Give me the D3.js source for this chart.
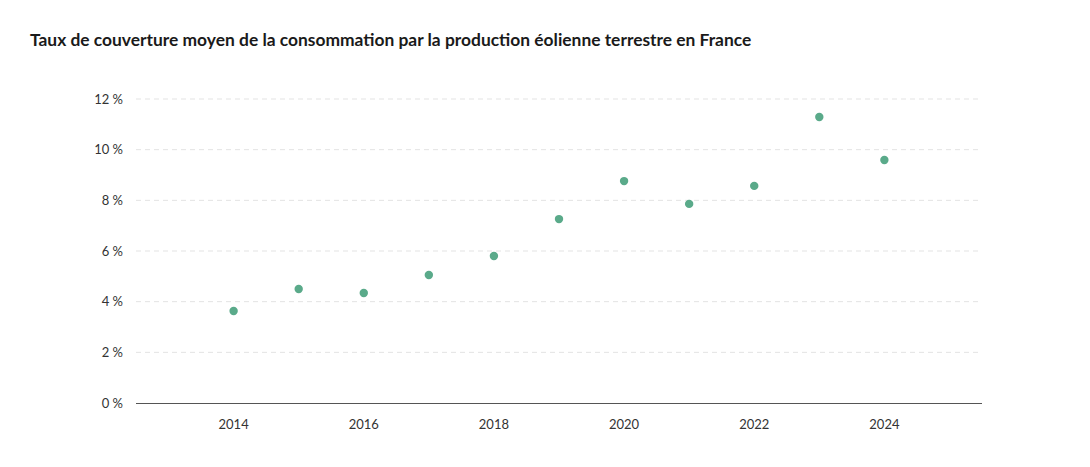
<!DOCTYPE html>
<html><head><meta charset="utf-8">
<script src="https://cdn.jsdelivr.net/npm/d3@7"></script>
<style>body{margin:0;background:#fff;font-family:Lato,"Open Sans",sans-serif;}</style>
</head><body><svg id="c" width="1090" height="467"></svg>
<script>
const years=[2014,2015,2016,2017,2018,2019,2020,2021,2022,2023,2024];
const values=[3.63,4.50,4.34,5.05,5.80,7.26,8.76,7.86,8.57,11.29,9.59];
const yTicks=[0,2,4,6,8,10,12];
const xTicks=[2014,2016,2018,2020,2022,2024];
const title="Taux de couverture moyen de la consommation par la production éolienne terrestre en France";
const svg=d3.select("#c");
const x=d3.scaleLinear().domain([2012.5,2025.5]).range([136,982]);
const y=d3.scaleLinear().domain([0,12]).range([403,99]);
svg.append("text").attr("x",30).attr("y",46).attr("font-size",17.4).attr("font-weight",700).attr("fill","#1a1a1a").text(title);
svg.append("g").selectAll("line").data(yTicks.filter(d=>d>0)).join("line")
 .attr("x1",136).attr("x2",982).attr("y1",d=>y(d)).attr("y2",d=>y(d))
 .attr("stroke","#e3e3e3").attr("stroke-dasharray","5,4");
svg.append("g").selectAll("text").data(yTicks).join("text")
 .attr("x",123).attr("y",d=>y(d)+4.5).attr("text-anchor","end").attr("font-size",13).attr("fill","#333")
 .text(d=>d+" %");
svg.append("line").attr("x1",136).attr("x2",982).attr("y1",403.5).attr("y2",403.5).attr("stroke","#555");
svg.append("g").selectAll("text").data(xTicks).join("text")
 .attr("x",d=>x(d)).attr("y",429).attr("text-anchor","middle").attr("font-size",13).attr("fill","#333").text(d=>d);
svg.append("g").selectAll("circle").data(years).join("circle")
 .attr("cx",d=>x(d)).attr("cy",(d,i)=>y(values[i])).attr("r",4.2).attr("fill","#5aaa8a");
</script></body></html>
